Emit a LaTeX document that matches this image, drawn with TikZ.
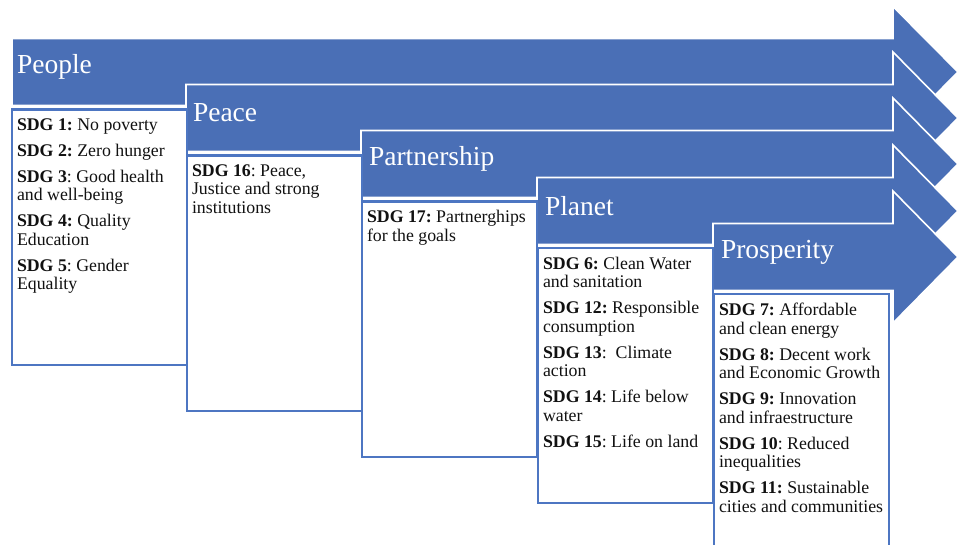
\documentclass[tikz,border=0pt]{standalone}
\usepackage{fontspec}
\setmainfont{Liberation Serif}
\usepackage{xcolor}
\usepackage{tikz}
\usetikzlibrary{positioning,calc}
\definecolor{pillar}{HTML}{4A6FB6}
\definecolor{pillarline}{HTML}{4D76C2}
\definecolor{ink}{HTML}{111111}
\tikzset{
  pillararrow/.style = {fill=pillar, draw=white, line width=1.6pt, line join=miter},
  pillarname/.style  = {font=\fontsize{27.5}{30}\selectfont\color{white}, anchor=west, inner sep=0pt, outer sep=0pt},
  goalbox/.style     = {draw=pillarline, fill=white, line width=2.3pt, minimum width=175pt, minimum height=255pt, anchor=north west, inner sep=0pt},
  goaltext/.style    = {font=\fontsize{17.8}{18.5}\selectfont\frenchspacing\color{ink}, align=left, anchor=north west, inner sep=0pt, outer sep=0pt},
}

\begin{document}
\begin{tikzpicture}[x=1pt,y=-1pt]
\useasboundingbox (0,0) rectangle (965,545);

% ---- the five staggered arrows -------------------------------------------
% People, centre y=72
\filldraw[pillararrow] (12,38.5) -- (893,38.5) -- (893,6.5) -- (958,72) -- (893,137.5) -- (893,105.5) -- (12,105.5) -- cycle;
\node[pillarname] (people) at (17,67) {People};
% Peace, centre y=118
\filldraw[pillararrow] (186,84.5) -- (893,84.5) -- (893,52) -- (958,118) -- (893,184) -- (893,151.5) -- (186,151.5) -- cycle;
\node[pillarname] (peace) at (193,113) {Peace};
% Partnership, centre y=164
\filldraw[pillararrow] (361,130.5) -- (893,130.5) -- (893,98) -- (958,164) -- (893,230) -- (893,197.5) -- (361,197.5) -- cycle;
\node[pillarname] (partnership) at (369,159) {Partnership};
% Planet, centre y=211
\filldraw[pillararrow] (537,177.5) -- (893,177.5) -- (893,145) -- (958,211) -- (893,277) -- (893,244.5) -- (537,244.5) -- cycle;
\node[pillarname] (planet) at (545,206) {Planet};
% Prosperity, centre y=257
\filldraw[pillararrow] (713,223.5) -- (893,223.5) -- (893,191) -- (958,257) -- (893,323) -- (893,290.5) -- (713,290.5) -- cycle;
\node[pillarname] (prosperity) at (721,252) {Prosperity};

% ---- the goal boxes -------------------------------------------------------
\node[goalbox] (peoplebox) at (11,108.5) {};
\node[goalbox] (peacebox) at (186,154.5) {};
\node[goalbox] (partnershipbox) at (361,200.5) {};
\node[goalbox] (planetbox) at (537,247) {};
\node[goalbox] (prosperitybox) at (713,293) {};

% ---- the goals ------------------------------------------------------------
\node[goaltext] (peoplegoals) at ([xshift=6pt,yshift=-10pt]peoplebox.north west)
  {\textbf{SDG 1:} No poverty\\[7.5pt]
   \textbf{SDG 2:} Zero hunger\\[7.5pt]
   \textbf{SDG 3}: Good health\\and well-being\\[7.5pt]
   \textbf{SDG 4:} Quality\\Education\\[7.5pt]
   \textbf{SDG 5}: Gender\\Equality};
\node[goaltext] (peacegoals) at ([xshift=6pt,yshift=-10pt]peacebox.north west)
  {\textbf{SDG 16}: Peace,\\Justice and strong\\institutions};
\node[goaltext] (partnershipgoals) at ([xshift=6pt,yshift=-10pt]partnershipbox.north west)
  {\textbf{SDG 17:} Partnerghips\\for the goals};
\node[goaltext] (planetgoals) at ([xshift=6pt,yshift=-10pt]planetbox.north west)
  {\textbf{SDG 6:} Clean Water\\and sanitation\\[7.5pt]
   \textbf{SDG 12:} Responsible\\consumption\\[7.5pt]
   \textbf{SDG 13}:\ \ Climate\\action\\[7.5pt]
   \textbf{SDG 14}: Life below\\water\\[7.5pt]
   \textbf{SDG 15}: Life on land};
\node[goaltext] (prosperitygoals) at ([xshift=6pt,yshift=-10pt]prosperitybox.north west)
  {\textbf{SDG 7:} Affordable\\and clean energy\\[7.5pt]
   \textbf{SDG 8:} Decent work\\and Economic Growth\\[7.5pt]
   \textbf{SDG 9:} Innovation\\and infraestructure\\[7.5pt]
   \textbf{SDG 10}: Reduced\\inequalities\\[7.5pt]
   \textbf{SDG 11:} Sustainable\\cities and communities};

\end{tikzpicture}
\end{document}
